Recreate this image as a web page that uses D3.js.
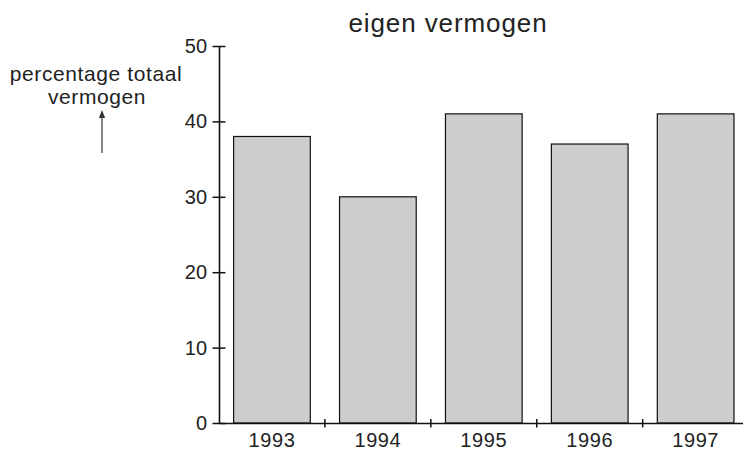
<!DOCTYPE html>
<html>
<head>
<meta charset="utf-8">
<script src="https://cdn.jsdelivr.net/npm/d3@7"></script>
<style>
  body { margin: 0; background: #fff; }
  text { font-family: "Liberation Sans", Arial, sans-serif; fill: #222; }
</style>
</head>
<body>
<div id="chart"></div>
<script>
// data
const years = ["1993", "1994", "1995", "1996", "1997"]
const values = [38, 30, 41, 37, 41]
const yTicks = [0, 10, 20, 30, 40, 50]

const W = 743, H = 450
const plotLeft = 219, plotRight = 748.6, plotTop = 46, plotBottom = 423

const svg = d3.select("#chart").append("svg")
  .attr("width", W).attr("height", H)

const x = d3.scaleBand().domain(years).range([plotLeft, plotRight])
  .paddingInner(0.276).paddingOuter(0.138)
const y = d3.scaleLinear().domain([0, 50]).range([plotBottom, plotTop])

// bars
svg.selectAll("rect.bar")
  .data(values)
  .join("rect")
  .attr("class", "bar")
  .attr("x", (d, i) => x(years[i]))
  .attr("y", d => y(d))
  .attr("width", x.bandwidth())
  .attr("height", d => y(0) - y(d))
  .attr("fill", "#cdcdcd")
  .attr("stroke", "#111")
  .attr("stroke-width", 1.2)

// y axis, ticks cross the line
const yAxis = svg.append("g")
  .attr("transform", `translate(${plotLeft},0)`)
  .call(d3.axisLeft(y).tickValues(yTicks).tickSize(6.5).tickSizeOuter(0).tickPadding(5))
yAxis.selectAll(".tick line").attr("x1", 6.5).attr("stroke", "#111").attr("stroke-width", 1.5)
yAxis.select(".domain").attr("stroke", "#111").attr("stroke-width", 1.6)
yAxis.selectAll("text").style("font-size", "20px").style("letter-spacing", "0.3px").attr("fill", "#222")

// x axis, labels under bars, small ticks between bands
const xAxis = svg.append("g")
  .attr("transform", `translate(0,${plotBottom})`)
  .call(d3.axisBottom(x).tickSize(0).tickSizeOuter(0).tickPadding(10))
xAxis.select(".domain").attr("stroke", "#111").attr("stroke-width", 1.6)
xAxis.selectAll("text").style("font-size", "20px").style("letter-spacing", "0.6px").attr("fill", "#222")

const gap = x.step() - x.bandwidth()
svg.selectAll("line.sep")
  .data(years.slice(0, -1))
  .join("line")
  .attr("class", "sep")
  .attr("x1", d => x(d) + x.bandwidth() + gap / 2)
  .attr("x2", d => x(d) + x.bandwidth() + gap / 2)
  .attr("y1", plotBottom - 4).attr("y2", plotBottom + 4.5)
  .attr("stroke", "#111").attr("stroke-width", 1.5)

// title
svg.append("text")
  .attr("x", 448).attr("y", 32)
  .attr("text-anchor", "middle")
  .style("font-size", "26px")
  .style("letter-spacing", "0.9px")
  .text("eigen vermogen")

// y label with arrow
svg.append("text")
  .attr("x", 96).attr("y", 81)
  .attr("text-anchor", "middle")
  .style("font-size", "21px")
  .style("letter-spacing", "0.6px")
  .text("percentage totaal")
svg.append("text")
  .attr("x", 97).attr("y", 104)
  .attr("text-anchor", "middle")
  .style("font-size", "21px")
  .style("letter-spacing", "0.6px")
  .text("vermogen")

svg.append("defs").append("marker")
  .attr("id", "head")
  .attr("viewBox", "0 0 10 10")
  .attr("refX", 5).attr("refY", 5)
  .attr("markerWidth", 6).attr("markerHeight", 8)
  .attr("orient", "auto")
  .append("path")
  .attr("d", "M0,1 L10,5 L0,9 Z")
  .attr("fill", "#333")

svg.append("line")
  .attr("x1", 102).attr("x2", 102)
  .attr("y1", 153).attr("y2", 114)
  .attr("stroke", "#444").attr("stroke-width", 1.3)
  .attr("marker-end", "url(#head)")
</script>
</body>
</html>
